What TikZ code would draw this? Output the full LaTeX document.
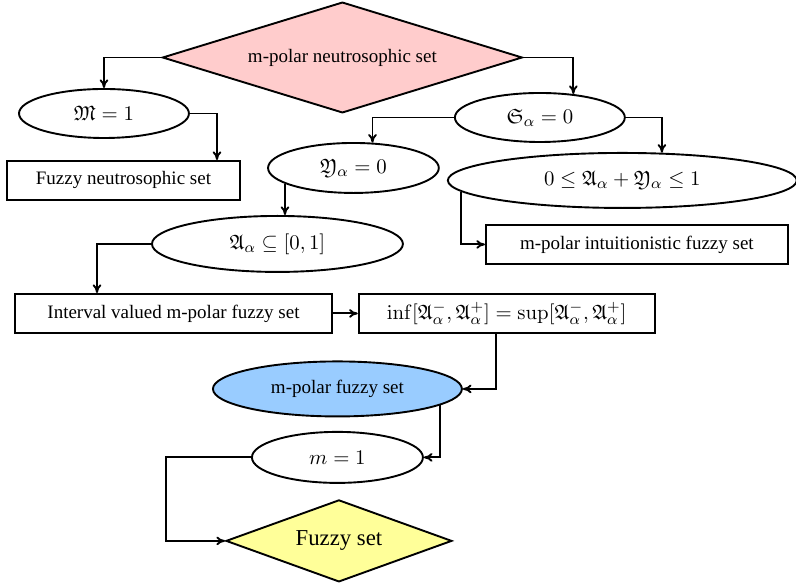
\documentclass[tikz,border=0pt]{standalone}
\usepackage{amssymb}
\usepackage[no-math]{fontspec}
\setmainfont{Liberation Serif}
\usetikzlibrary{arrows.meta,positioning,shapes.geometric,calc}
\definecolor{rootpink}{HTML}{FFCCCC}
\definecolor{polarblue}{HTML}{99CCFF}
\definecolor{fuzzyyellow}{HTML}{FFFF99}

\begin{document}
\begin{tikzpicture}[
      >={To[length=1.6mm,width=1.6mm]},
      cond/.style={ellipse,draw,line width=1pt,inner sep=0pt},
      box/.style={rectangle,draw,line width=1pt,inner sep=0pt,minimum height=0.72cm},
      dec/.style={diamond,draw,line width=1pt,inner sep=0pt},
      mth/.style={font=\fontsize{10.95}{13}\selectfont},
      link/.style={->,line width=1pt}]
    \useasboundingbox (0,0) rectangle (14.73,-10.82);
    \node[dec,fill=rootpink,aspect=3.24,minimum width=6.66cm,minimum height=2.05cm] (mns) at (6.336,-1.064)
      {m-polar neutrosophic set};
    \node[cond,mth,minimum width=3.145cm,minimum height=0.907cm] (mone) at (1.924,-2.100)
      {$\mathfrak{M}=1$};
    \node[box,minimum width=4.31cm] (fns) at (2.285,-3.339) {Fuzzy neutrosophic set};
    \node[cond,mth,minimum width=3.145cm,minimum height=0.907cm] (szero) at (9.99,-2.174)
      {$\mathfrak{S}_\alpha=0$};
    \node[cond,mth,minimum width=3.16cm,minimum height=0.925cm] (yzero) at (6.540,-3.108)
      {$\mathfrak{Y}_\alpha=0$};
    \node[cond,mth,minimum width=6.457cm,minimum height=1.018cm] (sum) at (11.516,-3.339)
      {$0\leq\mathfrak{A}_\alpha+\mathfrak{Y}_\alpha\leq1$};
    \node[box,minimum width=5.587cm] (mif) at (11.785,-4.523) {m-polar intuitionistic fuzzy set};
    \node[cond,mth,minimum width=4.644cm,minimum height=1.036cm] (unit) at (5.134,-4.514)
      {$\mathfrak{A}_\alpha\subseteq[0,1]$};
    \node[box,minimum width=5.865cm] (ivm) at (3.210,-5.800) {Interval valued m-polar fuzzy set};
    \node[box,mth,minimum width=5.476cm,right=0.46cm of ivm] (infsup)
      {$\inf[\mathfrak{A}_\alpha^-,\mathfrak{A}_\alpha^+]=\sup[\mathfrak{A}_\alpha^-,\mathfrak{A}_\alpha^+]$};
    \node[cond,fill=polarblue,minimum width=4.607cm,minimum height=1.018cm] (mpf) at (6.244,-7.197)
      {m-polar fuzzy set};
    \node[cond,mth,minimum width=3.164cm,minimum height=0.944cm] (mis) at (6.244,-8.464) {$m=1$};
    \node[dec,fill=fuzzyyellow,aspect=2.76,minimum width=4.181cm,minimum height=1.517cm,font=\large] (fs) at (6.272,-10.009)
      {Fuzzy set};
    \draw[link] (mns.west) -| (mone.north);
    \draw[link] (mone.east) -| ($(fns.north)+(1.73,0)$);
    \draw[link] (mns.east) -| (szero.35);
    \draw[link] (szero.west) -| (yzero.53);
    \draw[link] (szero.east) -| (sum.35);
    \draw[link] (sum.184) |- (mif.west);
    \draw[link] (yzero.193) -- (yzero.193 |- unit.north);
    \draw[link] (unit.west) -| ($(ivm.north)+(-1.415,0)$);
    \draw[link] (ivm.east) -- (infsup.west);
    \draw[link] ($(infsup.south)+(-0.2035,0)$) |- (mpf.east);
    \draw[link] (mpf.-9) |- (mis.east);
    \draw[link] (mis.west) -- ($(mis.west)+(-1.57,0)$) |- (fs.west);
  \end{tikzpicture}
\end{document}
